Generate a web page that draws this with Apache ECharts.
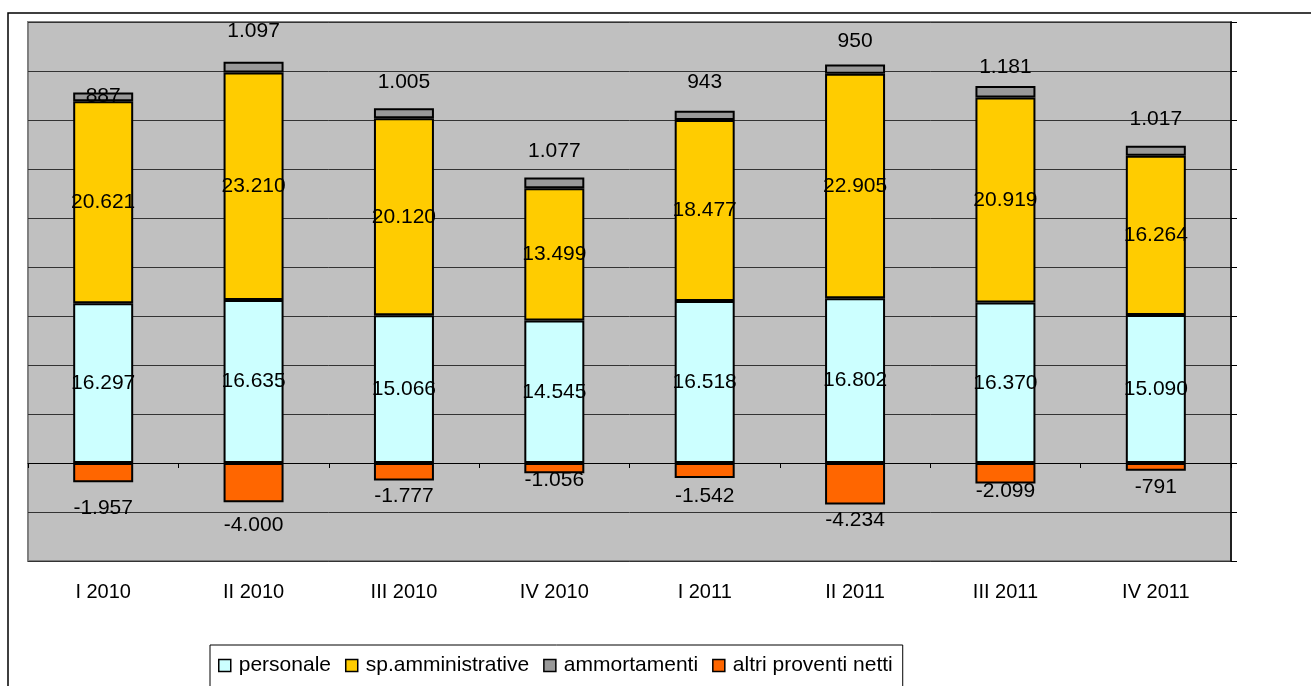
<!DOCTYPE html>
<html>
<head>
<meta charset="utf-8">
<script src="https://cdn.jsdelivr.net/npm/echarts@6/dist/echarts.min.js"></script>
<style>
  html, body { margin: 0; padding: 0; background: #fff; }
  #chart { width: 1311px; height: 686px; }
</style>
</head>
<body>
<div id="chart"></div>
<script>
// trimestri
var quarters = ['I 2010', 'II 2010', 'III 2010', 'IV 2010', 'I 2011', 'II 2011', 'III 2011', 'IV 2011'];
var personale = [16297, 16635, 15066, 14545, 16518, 16802, 16370, 15090];
var spAmministrative = [20621, 23210, 20120, 13499, 18477, 22905, 20919, 16264];
var ammortamenti = [887, 1097, 1005, 1077, 943, 950, 1181, 1017];
var altriProventi = [-1957, -4000, -1777, -1056, -1542, -4234, -2099, -791];

// spostamento manuale delle etichette (px), come nel grafico originale
var ammLabelLift = [-3, 31, 27, 27, 29, 24, 19, 27];
var altriLabelDrop = [27, 24, 16, 7, 19, 16, 8, 17];

// formato italiano con punto delle migliaia
function fmt(v) {
  var s = String(Math.abs(v)).replace(/\B(?=(\d{3})+(?!\d))/g, '.');
  return (v < 0 ? '-' : '') + s;
}

var FONT = 'Liberation Sans, Arial, sans-serif';
var chart = echarts.init(document.getElementById('chart'));

function barSeries(name, data, color, label) {
  return {
    name: name,
    type: 'bar',
    stack: 'tot',
    xAxisIndex: 0,
    barWidth: 60,
    data: data,
    itemStyle: { color: color, borderColor: '#000', borderWidth: 2 },
    label: Object.assign({
      show: true,
      fontFamily: FONT,
      fontSize: 21,
      color: '#000',
      formatter: function (p) { return fmt(p.value); }
    }, label)
  };
}

function withOffsets(values, shifts, sign) {
  return values.map(function (v, i) {
    return { value: v, label: { offset: [0, sign * (shifts[i] - 11)] } };
  });
}

var option = {
  backgroundColor: '#fff',
  animation: false,
  textStyle: { fontFamily: FONT },
  graphic: [{
    type: 'rect',
    shape: { x: 8, y: 13, width: 1400, height: 800 },
    style: { fill: 'none', stroke: '#000', lineWidth: 1.5 },
    silent: true
  }],
  grid: {
    left: 28, right: 80, top: 22, bottom: 125,
    show: true,
    backgroundColor: '#C0C0C0',
    borderColor: '#808080',
    borderWidth: 2
  },
  legend: {
    left: 210,
    top: 645,
    padding: [10, 10, 30, 8],
    borderColor: '#000',
    borderWidth: 1,
    itemGap: 14,
    itemWidth: 12,
    itemHeight: 12,
    icon: 'rect',
    itemStyle: { borderWidth: 1.5, borderColor: '#000' },
    textStyle: { fontFamily: FONT, fontSize: 21, color: '#000', padding: [0, 0, 0, 3] },
    data: ['personale', 'sp.amministrative', 'ammortamenti', 'altri proventi netti']
  },
  xAxis: [{
    type: 'category',
    data: quarters,
    position: 'bottom',
    axisLine: { show: false, onZero: false },
    axisTick: { show: false },
    axisLabel: { margin: 21, fontSize: 20, color: '#000', fontFamily: FONT }
  }, {
    type: 'category',
    data: quarters,
    position: 'bottom',
    axisLine: { show: true, onZero: true, lineStyle: { color: '#000', width: 1 } },
    axisTick: { show: true, length: 5, lineStyle: { color: '#000' } },
    axisLabel: { show: false }
  }],
  yAxis: {
    type: 'value',
    position: 'right',
    min: -10000,
    max: 45000,
    interval: 5000,
    axisLine: { show: true, lineStyle: { color: '#000', width: 1.5 } },
    axisTick: { show: true, length: 6, lineStyle: { color: '#000' } },
    axisLabel: { show: false },
    splitLine: { lineStyle: { color: '#333', width: 1 } }
  },
  series: [
    barSeries('personale', personale, '#CCFFFF', { position: 'inside' }),
    barSeries('sp.amministrative', spAmministrative, '#FFCC00', { position: 'inside' }),
    barSeries('ammortamenti', withOffsets(ammortamenti, ammLabelLift, -1), '#999999', { position: 'top', distance: 0 }),
    barSeries('altri proventi netti', withOffsets(altriProventi, altriLabelDrop, 1), '#FF6600', { position: 'bottom', distance: 0 })
  ]
};

chart.setOption(option);
</script>
</body>
</html>
